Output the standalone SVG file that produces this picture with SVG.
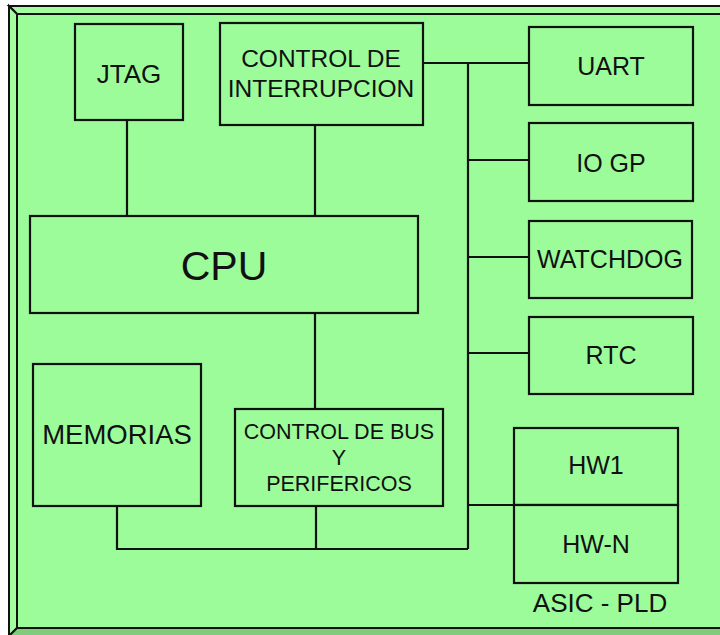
<svg xmlns="http://www.w3.org/2000/svg" width="720" height="635" viewBox="0 0 720 635">
<style>
.box{fill:#9cfc9a;stroke:#111;stroke-width:2.2}
.wire{fill:none;stroke:#111;stroke-width:2.2}
.bevel{stroke:#111;stroke-width:2}
text{font-family:"Liberation Sans",Arial,sans-serif;fill:#111;text-anchor:middle}
.t25{font-size:25px}
.t22{font-size:21.5px}
</style>
<rect x="0" y="0" width="720" height="635" fill="#ffffff"/>
<g id="frame">
<polygon points="9,6 730,6 730,14 17,14" fill="#a3fca0" class="bevel"/>
<polygon points="9,6 17,14 17,628 9,636" fill="#a3fca0" class="bevel"/>
<polygon points="17,628 730,628 730,645 9,645 9,636" fill="#7ecc7c" class="bevel"/>
<rect x="17" y="14" width="720" height="614" fill="#9cfc9a" stroke="#111" stroke-width="2"/>
</g>
<g id="connectors">
<line x1="127" y1="120" x2="127" y2="216" class="wire"/>
<line x1="315" y1="125" x2="315" y2="216" class="wire"/>
<line x1="315" y1="313" x2="315" y2="409" class="wire"/>
<line x1="423" y1="63" x2="529" y2="63" class="wire"/>
<line x1="468" y1="63" x2="468" y2="549" class="wire"/>
<line x1="468" y1="160" x2="529" y2="160" class="wire"/>
<line x1="468" y1="257" x2="529" y2="257" class="wire"/>
<line x1="468" y1="353" x2="529" y2="353" class="wire"/>
<line x1="468" y1="505" x2="514" y2="505" class="wire"/>
<polyline points="117,506 117,549 468,549" class="wire"/>
<line x1="316" y1="506" x2="316" y2="549" class="wire"/>
</g>
<g id="jtag">
<rect x="75" y="24" width="108" height="96" class="box"/>
<text x="129" y="83" font-size="26">JTAG</text>
</g>
<g id="control-interrupcion">
<rect x="220" y="23" width="203" height="102" class="box"/>
<text x="321" y="67" font-size="24.5">CONTROL DE</text>
<text x="321" y="97" font-size="24.5">INTERRUPCION</text>
</g>
<g id="cpu">
<rect x="30" y="216" width="388" height="97" class="box"/>
<text x="224" y="280" font-size="41">CPU</text>
</g>
<g id="uart">
<rect x="529" y="27" width="164" height="78" class="box"/>
<text x="611" y="75" class="t25">UART</text>
</g>
<g id="io-gp">
<rect x="529" y="123" width="164" height="78" class="box"/>
<text x="611" y="172" class="t25">IO GP</text>
</g>
<g id="watchdog">
<rect x="529" y="221" width="163" height="77" class="box"/>
<text x="610" y="268" class="t25">WATCHDOG</text>
</g>
<g id="rtc">
<rect x="529" y="317" width="164" height="77" class="box"/>
<text x="611" y="364" class="t25">RTC</text>
</g>
<g id="memorias">
<rect x="33" y="364" width="168" height="142" class="box"/>
<text x="117" y="444" font-size="27.5">MEMORIAS</text>
</g>
<g id="control-bus">
<rect x="235" y="409" width="208" height="97" class="box"/>
<text x="339" y="439" class="t22">CONTROL DE BUS</text>
<text x="339" y="465" class="t22">Y</text>
<text x="339" y="491" class="t22">PERIFERICOS</text>
</g>
<g id="asic-pld">
<rect x="514" y="428" width="164" height="77" class="box"/>
<text x="596" y="474" class="t25">HW1</text>
<rect x="514" y="505" width="164" height="78" class="box"/>
<text x="596" y="553" class="t25">HW-N</text>
<text x="600" y="612" font-size="26">ASIC - PLD</text>
</g>
</svg>
